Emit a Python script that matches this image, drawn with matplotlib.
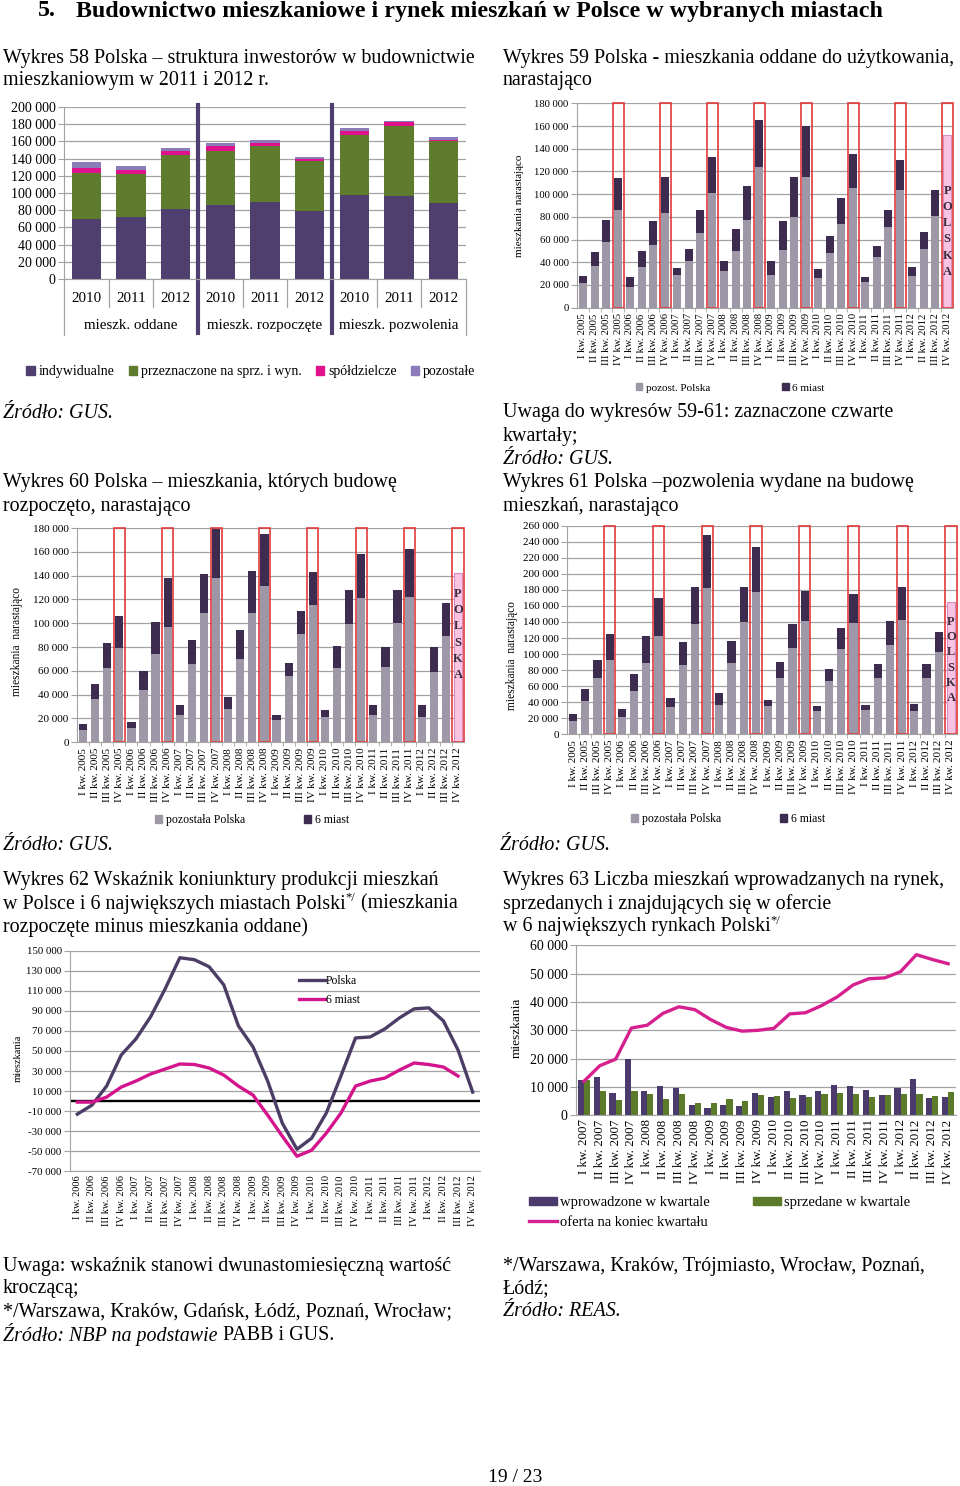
import numpy as np
import matplotlib
matplotlib.use("Agg")
import matplotlib.pyplot as plt
from matplotlib.ticker import FuncFormatter
from matplotlib.patches import Patch

plt.rcParams['font.family'] = ['Liberation Serif', 'DejaVu Serif']

# ---- Wykres 58: struktura inwestorow ----
w58_years = ["2010", "2011", "2012"] * 3
w58_groups = ["mieszk. oddane", "mieszk. rozpoczęte", "mieszk. pozwolenia"]
w58_indyw = [70000, 72000, 81000, 86000, 90000, 79000, 98000, 96000, 88000]
w58_sprz = [53000, 50000, 63000, 63000, 65000, 58000, 69000, 82000, 72000]
w58_spold = [6000, 5000, 5000, 6000, 3000, 2000, 5000, 4000, 2000]
w58_pozost = [7000, 4500, 3500, 3000, 4000, 3000, 3000, 2000, 3000]

# ---- quarters 2005-2012 (wykresy 59-61) ----
years_q = ["2005", "2006", "2007", "2008", "2009", "2010", "2011", "2012"]
quarters = ["I", "II", "III", "IV"]

# Wykres 59 - oddane (pozost. Polska / 6 miast), IV kw. 2012 tylko Polska
w59_rest = [22000, 37000, 58000, 86000, 18000, 36000, 55000, 83000, 29000, 41000, 66000, 101000,
            32000, 50000, 77000, 124000, 29000, 51000, 80000, 115000, 26000, 48000, 74000, 105000,
            23000, 45000, 71000, 104000, 28000, 52000, 81000]
w59_six = [6000, 12000, 19000, 28000, 9000, 14000, 21000, 32000, 6000, 11000, 20000, 32000,
           9000, 19000, 30000, 41000, 12000, 25000, 35000, 45000, 8000, 15000, 23000, 30000,
           4000, 9000, 15000, 26000, 8000, 15000, 23000]
w59_polska_last = 152000

# Wykres 60 - rozpoczete
w60_rest = [10000, 36000, 62000, 79000, 12000, 44000, 74000, 97000, 23000, 66000, 109000, 138000,
            28000, 70000, 109000, 131000, 19000, 56000, 91000, 115000, 21000, 62000, 99000, 121000,
            23000, 63000, 100000, 122000, 21000, 59000, 89000]
w60_six = [5000, 13000, 21000, 27000, 5000, 16000, 27000, 41000, 8000, 20000, 32000, 41000,
           10000, 24000, 35000, 44000, 4000, 11000, 19000, 28000, 6000, 19000, 29000, 37000,
           8000, 17000, 28000, 40000, 10000, 21000, 28000]
w60_polska_last = 142000

# Wykres 61 - pozwolenia
w61_rest = [17000, 42000, 70000, 93000, 22000, 54000, 89000, 123000, 34000, 86000, 137000, 182000,
            37000, 89000, 140000, 177000, 35000, 70000, 108000, 141000, 29000, 67000, 106000, 139000,
            30000, 70000, 111000, 142000, 29000, 70000, 102000]
w61_six = [8000, 15000, 22000, 32000, 10000, 21000, 33000, 47000, 11000, 29000, 47000, 67000,
           14000, 27000, 43000, 56000, 8000, 20000, 30000, 38000, 6000, 15000, 26000, 36000,
           7000, 18000, 30000, 42000, 9000, 18000, 26000]
w61_polska_last = 165000

# Wykres 62 - wskaznik koniunktury, I kw. 2006 - IV kw. 2012
w62_polska = [-13000, -4000, 15000, 46000, 62000, 84000, 112000, 143000, 141000, 134000, 116000, 75000,
              54000, 20000, -22000, -48000, -37000, -12000, 25000, 63000, 64000, 72000, 83000, 92000,
              93000, 80000, 51000, 9000]
w62_miasta = [-1000, -1000, 4000, 14000, 20000, 27000, 32000, 37000, 36500, 33000, 26000, 15000,
              6000, -14000, -35000, -55000, -49000, -32000, -12000, 15000, 20000, 23000, 31000, 38000,
              36500, 34000, 25000]

# Wykres 63 - rynek 6 miast, I kw. 2007 - IV kw. 2012
w63_wprow = [12500, 13500, 8000, 20000, 8500, 10500, 9500, 3800, 2500, 3700, 3200, 7800,
             6300, 8700, 7000, 8500, 10700, 10500, 8800, 7200, 9600, 12800, 6200, 6300]
w63_sprz = [12500, 8500, 5500, 8500, 7500, 5800, 7500, 4300, 4300, 5700, 5100, 7200,
            6900, 6200, 6600, 7500, 7800, 7500, 6600, 7200, 7500, 7500, 6900, 8100]
w63_oferta = [12000, 17500, 19800, 30800, 31800, 36000, 38300, 37300, 33800, 31000, 29700, 30000,
              30700, 35800, 36200, 38700, 41800, 46000, 48200, 48500, 50700, 56700, 55000, 53500]

W, H = 960, 1486
GRID = '#a3a3a3'
BODY = 14.4
fig = plt.figure(figsize=(W / 100, H / 100), dpi=100)
renderer = fig.canvas.get_renderer()


def axes_px(x0, y0, x1, y1):
    return fig.add_axes([x0 / W, 1 - y1 / H, (x1 - x0) / W, (y1 - y0) / H])


def put(x, y, s, **kw):
    kw.setdefault('va', 'center')
    kw.setdefault('fontsize', BODY)
    return fig.text(x / W, 1 - y / H, s, **kw)


def put_line(x, y, parts):
    # pieces of one text line with own styles, placed one after another
    for s, kw in parts:
        kw = dict(kw)
        dy = kw.pop('dy', 0)
        t = put(x, y + dy, s, **kw)
        x = t.get_window_extent(renderer).x1


def thous(v, pos):
    return f"{int(round(v)):,}".replace(",", " ")


def base_style(ax, ymin, ymax, step, fs):
    ax.set_ylim(ymin, ymax)
    ax.set_yticks(np.arange(ymin, ymax + 1, step))
    ax.yaxis.set_major_formatter(FuncFormatter(thous))
    ax.grid(axis='y', color=GRID, lw=0.9)
    ax.set_axisbelow(True)
    for s in ['top', 'right']:
        ax.spines[s].set_visible(False)
    ax.spines['left'].set_color(GRID)
    ax.spines['bottom'].set_color(GRID)
    ax.tick_params(axis='y', labelsize=fs, color=GRID, length=4, pad=2)


quarter_labels = [f"{q} kw. {y}" for y in years_q for q in quarters]

# ---------------- Wykres 58 ----------------
ax = axes_px(64, 107, 466, 279)
base_style(ax, 0, 200000, 20000, 10)
x = np.arange(9)
c58 = ['#4f3f6f', '#5e7b2e', '#e0128b', '#8b7bb8']
names58 = ['indywidualne', 'przeznaczone na sprz. i wyn.', 'spółdzielcze', 'pozostałe']
bottom = np.zeros(9)
for vals, col in zip([w58_indyw, w58_sprz, w58_spold, w58_pozost], c58):
    ax.bar(x, vals, 0.66, bottom=bottom, color=col)
    bottom += np.array(vals)
ax.set_xlim(-0.5, 8.5)
ax.set_xticks(x)
ax.set_xticklabels(w58_years, fontsize=10.8)
ax.tick_params(axis='x', length=0, pad=9)
tr = ax.get_xaxis_transform()
for xx in [0.5, 1.5, 3.5, 4.5, 6.5, 7.5]:
    ax.plot([xx, xx], [0, -0.163], transform=tr, clip_on=False, color=GRID, lw=0.9)
for xx in [-0.5, 8.5]:
    ax.plot([xx, xx], [0, -0.326], transform=tr, clip_on=False, color=GRID, lw=0.9)
for xx in [2.5, 5.5]:
    ax.plot([xx, xx], [1.01, -0.314], transform=tr, clip_on=False, color='#4f3f6f', lw=3)
for i, g in enumerate(w58_groups):
    ax.text(1 + 3 * i, -0.273, g, transform=tr, ha='center', va='center', fontsize=10.8)
fig.legend([Patch(color=c) for c in c58], names58, loc='center',
           bbox_to_anchor=(251 / W, 1 - 372 / H), ncol=4, frameon=False, fontsize=10,
           handlelength=0.6, handleheight=0.6, handletextpad=0.3, columnspacing=1.0)


# ---------------- Wykresy 59-61 ----------------
def cumulative(ax, rest, six, last, ymax, step, letter_y0, letter_dy, fs):
    base_style(ax, 0, ymax, step, fs)
    n = len(rest)
    xs = np.arange(n + 1)
    ax.bar(xs[:n], rest, 0.68, color='#9d97a8')
    ax.bar(xs[:n], six, 0.68, bottom=rest, color='#3d2c50')
    ax.bar(xs[n], last, 0.68, color='#f9c4e4', edgecolor='#d98cbf', lw=0.8)
    for i in range(3, n + 1, 4):
        ax.bar(i, ymax, 0.92, bottom=0, fill=False, edgecolor='#e03a3a', lw=1.2, clip_on=False)
    for k, ch in enumerate("POLSKA"):
        ax.text(xs[n], letter_y0 - k * letter_dy, ch, ha='center', va='center',
                fontsize=9, fontweight='bold', color='#3a2a3a')
    ax.set_xlim(-0.5, n + 0.5)
    ax.set_xticks(xs)
    ax.set_xticklabels(quarter_labels, rotation=90, fontsize=fs)
    ax.set_xticks(xs[:-1] + 0.5, minor=True)
    ax.tick_params(axis='x', which='major', length=0, pad=4)
    ax.tick_params(axis='x', which='minor', length=3, color=GRID)


def cum_legend(cx, cy, names, fs, gap):
    fig.legend([Patch(color='#9d97a8'), Patch(color='#3d2c50')], names, loc='center',
               bbox_to_anchor=(cx / W, 1 - cy / H), ncol=2, frameon=False, fontsize=fs,
               handlelength=0.6, handleheight=0.6, handletextpad=0.3, columnspacing=gap)


ax = axes_px(577, 103.3, 953, 307.7)
cumulative(ax, w59_rest, w59_six, w59_polska_last, 180000, 20000, 103000, 14300, 7.7)
put(520, 206, "mieszkania narastająco", rotation=90, ha='center', fontsize=8)
cum_legend(730, 388, ['pozost. Polska', '6 miast'], 8, 6.5)

ax = axes_px(77, 528, 464, 742.3)
cumulative(ax, w60_rest, w60_six, w60_polska_last, 180000, 20000, 124500, 13600, 8)
put(17, 641, "mieszkania  narastająco", rotation=90, ha='center', fontsize=8.3)
cum_legend(252, 820, ['pozostała Polska', '6 miast'], 8.5, 5)

ax = axes_px(567, 525.7, 957, 734.3)
cumulative(ax, w61_rest, w61_six, w61_polska_last, 260000, 20000, 140000, 19000, 8)
put(512, 655, "mieszkania  narastająco", rotation=90, ha='center', fontsize=8.3)
cum_legend(728, 819, ['pozostała Polska', '6 miast'], 8.5, 5)

# ---------------- Wykres 62 ----------------
ax = axes_px(70, 950.7, 480, 1171.3)
base_style(ax, -70000, 150000, 20000, 7.8)
x62 = np.arange(len(w62_polska))
ax.axhline(0, color='black', lw=1.7)
ax.plot(x62, w62_polska, color='#4c3d66', lw=2.4, label='Polska')
ax.plot(x62[:len(w62_miasta)], w62_miasta, color='#d4148c', lw=2.4, label='6 miast')
ax.set_xlim(-0.5, len(x62) - 0.5)
ax.set_xticks(x62)
ax.set_xticklabels(quarter_labels[4:], rotation=90, fontsize=7.4)
ax.tick_params(axis='x', length=0, pad=3)
ax.legend(loc='upper left', bbox_to_anchor=(299 / W, 1 - 975 / H), bbox_transform=fig.transFigure,
          frameon=False, fontsize=8.4, handlelength=2.2, handletextpad=0.1, labelspacing=0.6,
          borderaxespad=0, borderpad=0)
put(18, 1058, "mieszkania", rotation=90, ha='center', fontsize=7.6)

# ---------------- Wykres 63 ----------------
ax = axes_px(576, 945.3, 956, 1115.3)
base_style(ax, 0, 60000, 10000, 10)
x63 = np.arange(len(w63_wprow))
ax.bar(x63 - 0.195, w63_wprow, 0.39, color='#4b3b6d')
ax.bar(x63 + 0.195, w63_sprz, 0.39, color='#5b7b2b')
l1, = ax.plot(x63, w63_oferta, color='#d6208f', lw=2.4)
ax.set_xlim(-0.5, len(x63) - 0.5)
ax.set_xticks(x63)
ax.set_xticklabels(quarter_labels[8:], rotation=90, fontsize=9.4)
ax.tick_params(axis='x', length=0, pad=3)
put(517, 1028, "mieszkania", rotation=90, ha='center', fontsize=9.6)
fig.legend([Patch(color='#4b3b6d'), l1, Patch(color='#5b7b2b')],
           ['wprowadzone w kwartale', 'oferta na koniec kwartału', 'sprzedane w kwartale'],
           loc='upper left', bbox_to_anchor=(529 / W, 1 - 1196 / H), ncol=2, frameon=False,
           fontsize=10.5, handlelength=1.9, handleheight=0.5, handletextpad=0.2,
           columnspacing=3.0, labelspacing=0.45, borderpad=0, borderaxespad=0)

# ---------------- page texts ----------------
put(38, 11, "5.", fontsize=17.3, fontweight='bold')
put(76, 11, "Budownictwo mieszkaniowe i rynek mieszkań w Polsce w wybranych miastach",
    fontsize=17.3, fontweight='bold')

it = {'style': 'italic'}
put(3, 58, "Wykres 58 Polska – struktura inwestorów w budownictwie")
put(3, 81, "mieszkaniowym w 2011 i 2012 r.")
put(503, 58, "Wykres 59 Polska - mieszkania oddane do użytkowania,")
put(503, 81, "narastająco")
put(3, 413, "Źródło: GUS.", **it)
put(503, 413, "Uwaga do wykresów 59-61: zaznaczone czwarte")
put(503, 436, "kwartały;")
put(503, 459, "Źródło: GUS.", **it)
put(3, 483, "Wykres 60 Polska – mieszkania, których budowę")
put(3, 507, "rozpoczęto, narastająco")
put(503, 483, "Wykres 61 Polska –pozwolenia wydane na budowę")
put(503, 507, "mieszkań, narastająco")
put(3, 846, "Źródło: GUS.", **it)
put(500, 846, "Źródło: GUS.", **it)
put(3, 881, "Wykres 62 Wskaźnik koniunktury produkcji mieszkań")
put_line(3, 904, [("w Polsce i 6 największych miastach Polski", {}),
                  ("*/", {'fontsize': 9, 'dy': -6}),
                  (" (mieszkania", {})])
put(3, 927, "rozpoczęte minus mieszkania oddane)")
put(503, 881, "Wykres 63 Liczba mieszkań wprowadzanych na rynek,")
put(503, 904, "sprzedanych i znajdujących się w ofercie")
put_line(503, 927, [("w 6 największych rynkach Polski", {}),
                    ("*/", {'fontsize': 9, 'dy': -6})])
put(3, 1266, "Uwaga: wskaźnik stanowi dwunastomiesięczną wartość")
put(3, 1289, "kroczącą;")
put(3, 1312, "*/Warszawa, Kraków, Gdańsk, Łódź, Poznań, Wrocław;")
put_line(3, 1335, [("Źródło: NBP na podstawie", it), (" PABB i GUS.", {})])
put(503, 1266, "*/Warszawa, Kraków, Trójmiasto, Wrocław, Poznań,")
put(503, 1289, "Łódź;")
put(503, 1312, "Źródło: REAS.", **it)
put(515, 1477, "19 / 23", ha='center', fontsize=14)

fig.savefig("out.png", dpi=100)
